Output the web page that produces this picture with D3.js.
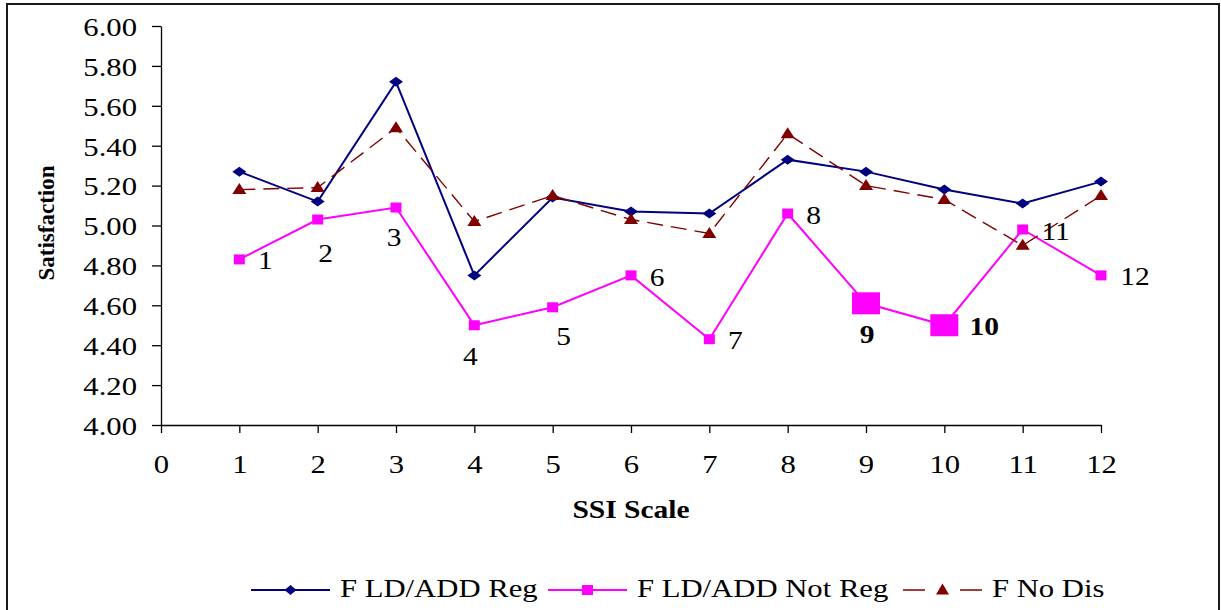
<!DOCTYPE html>
<html>
<head>
<meta charset="utf-8">
<script src="https://cdn.jsdelivr.net/npm/d3@7"></script>
<style>
  html, body { margin: 0; padding: 0; background: #fff; }
  svg { display: block; }
  text { font-family: "Liberation Serif", "Times New Roman", serif; fill: #000; }
</style>
</head>
<body>
<svg id="chart" width="1221" height="610"></svg>
<script>
// ---------------- data ----------------
const categories = [1, 2, 3, 4, 5, 6, 7, 8, 9, 10, 11, 12];
const regValues    = [5.27, 5.12, 5.72, 4.75, 5.14, 5.07, 5.06, 5.33, 5.27, 5.18, 5.11, 5.22];
const notRegValues = [4.83, 5.03, 5.09, 4.50, 4.59, 4.75, 4.43, 5.06, 4.61, 4.50, 4.98, 4.75];
const noDisValues  = [5.18, 5.19, 5.49, 5.02, 5.15, 5.03, 4.96, 5.46, 5.20, 5.13, 4.90, 5.15];
const seriesNames  = ["F LD/ADD Reg", "F LD/ADD Not Reg", "F No Dis"];
const xTickValues  = [0, 1, 2, 3, 4, 5, 6, 7, 8, 9, 10, 11, 12];
const yTickValues  = [4.0, 4.2, 4.4, 4.6, 4.8, 5.0, 5.2, 5.4, 5.6, 5.8, 6.0];
const pointLabels  = ["1", "2", "3", "4", "5", "6", "7", "8", "9", "10", "11", "12"];
const highlighted  = [9, 10];
const xTitle = "SSI Scale";
const yTitle = "Satisfaction";

// ---------------- layout ----------------
const SX = 1.18; // horizontal text stretch of the original rendering
const labelOffsets = [[26,1],[8,34],[-2,30],[-4,32],[11,29],[26,2],[26,2],[26,2],[1,31],[40,2],[33,2],[34,1]];
const colors = { reg: "#000080", notReg: "#FF00FF", noDis: "#800000" };

const svg = d3.select("#chart");

// outer frame
svg.append("rect").attr("x", 7).attr("y", 4).attr("width", 1212).attr("height", 640)
  .attr("fill", "#fff").attr("stroke", "#1a1a1a").attr("stroke-width", 2);

const x = d3.scaleLinear().domain([0, 12]).range([161, 1101]);
const y = d3.scaleLinear().domain([4, 6]).range([425, 26]);

function stretchedText(parent, px, py, str, size, opts = {}) {
  const g = parent.append("g").attr("transform", `translate(${px},${py}) scale(${SX},1)`);
  const t = g.append("text").text(str)
    .attr("font-size", size)
    .attr("text-anchor", opts.anchor || "middle")
    .attr("dominant-baseline", opts.baseline || "auto")
    .attr("font-weight", opts.bold ? "bold" : "normal");
  return t;
}

// axes
const yAxis = svg.append("g").attr("transform", `translate(${x(0)},0)`)
  .call(d3.axisLeft(y).tickValues(yTickValues).tickFormat(d3.format(".2f")).tickSize(9).tickSizeOuter(0));
yAxis.selectAll("text")
  .attr("font-size", 26).attr("font-family", "Liberation Serif, serif")
  .attr("x", -24 / SX).attr("dy", "0.36em")
  .attr("transform", `scale(${SX},1)`);

const xAxis = svg.append("g").attr("transform", `translate(0,${y(4)})`)
  .call(d3.axisBottom(x).tickValues(xTickValues).tickFormat(d3.format("d")).tickSize(8).tickSizeOuter(0));
xAxis.selectAll("text")
  .attr("font-size", 26).attr("font-family", "Liberation Serif, serif")
  .attr("y", 48).attr("dy", 0)
  .attr("transform", `scale(${SX},1)`);
svg.selectAll(".domain, .tick line").attr("stroke", "#000").attr("stroke-width", 1.3);

// axis titles
stretchedText(svg, 631, 518, xTitle, 25, { bold: true });
svg.append("text").text(yTitle)
  .attr("transform", "translate(54,223) rotate(-90)")
  .attr("text-anchor", "middle").attr("font-size", 23).attr("font-weight", "bold");

// series
const line = d3.line().x((d, i) => x(categories[i])).y(d => y(d));
function diamond(sel, w, h) { return sel.attr("points", `0,${-h/2} ${w/2},0 0,${h/2} ${-w/2},0`); }
function triangle(sel, w, h) { return sel.attr("points", `0,${-h*0.6} ${w/2},${h*0.4} ${-w/2},${h*0.4}`); }

// Reg
svg.append("path").datum(regValues).attr("d", line)
  .attr("fill", "none").attr("stroke", colors.reg).attr("stroke-width", 2);
svg.append("g").selectAll("polygon").data(regValues).join("polygon")
  .call(diamond, 14, 10)
  .attr("transform", (d, i) => `translate(${x(categories[i])},${y(d)})`)
  .attr("fill", colors.reg);

// Not Reg
svg.append("path").datum(notRegValues).attr("d", line)
  .attr("fill", "none").attr("stroke", colors.notReg).attr("stroke-width", 2);
svg.append("g").selectAll("rect").data(notRegValues).join("rect")
  .each(function (d, i) {
    const big = highlighted.includes(categories[i]);
    const w = big ? 28 : 11, h = big ? 22 : 10;
    d3.select(this).attr("x", x(categories[i]) - w / 2).attr("y", y(d) - h / 2)
      .attr("width", w).attr("height", h);
  })
  .attr("fill", colors.notReg);

// No Dis
svg.append("path").datum(noDisValues).attr("d", line)
  .attr("fill", "none").attr("stroke", colors.noDis).attr("stroke-width", 1.4)
  .attr("stroke-dasharray", "16,8");
svg.append("g").selectAll("polygon").data(noDisValues).join("polygon")
  .call(triangle, 14, 11)
  .attr("transform", (d, i) => `translate(${x(categories[i])},${y(d)})`)
  .attr("fill", colors.noDis);

// point labels for Not Reg
notRegValues.forEach((d, i) => {
  const big = highlighted.includes(categories[i]);
  stretchedText(svg, x(categories[i]) + labelOffsets[i][0], y(d) + labelOffsets[i][1],
    pointLabels[i], 25, { bold: big, baseline: "central" });
});

// legend
const legendY = 590;
const legendItems = [
  { name: seriesNames[0], x0: 251, color: colors.reg, marker: "diamond", dash: null, w: 2 },
  { name: seriesNames[1], x0: 548, color: colors.notReg, marker: "square", dash: null, w: 2 },
  { name: seriesNames[2], x0: 903, color: colors.noDis, marker: "triangle", dash: "22,35", w: 1.4 }
];
legendItems.forEach(it => {
  const g = svg.append("g");
  g.append("line").attr("x1", it.x0).attr("x2", it.x0 + 79).attr("y1", legendY).attr("y2", legendY)
    .attr("stroke", it.color).attr("stroke-width", it.w)
    .attr("stroke-dasharray", it.dash);
  const cx = it.x0 + 39.5;
  if (it.marker === "diamond") {
    g.append("polygon").call(diamond, 12, 10).attr("transform", `translate(${cx},${legendY})`).attr("fill", it.color);
  } else if (it.marker === "square") {
    g.append("rect").attr("x", cx - 5.5).attr("y", legendY - 5).attr("width", 11).attr("height", 10).attr("fill", it.color);
  } else {
    g.append("polygon").call(triangle, 13, 11).attr("transform", `translate(${cx},${legendY})`).attr("fill", it.color);
  }
  stretchedText(g, it.x0 + 89, 597, it.name, 26, { anchor: "start" });
});
</script>
</body>
</html>
